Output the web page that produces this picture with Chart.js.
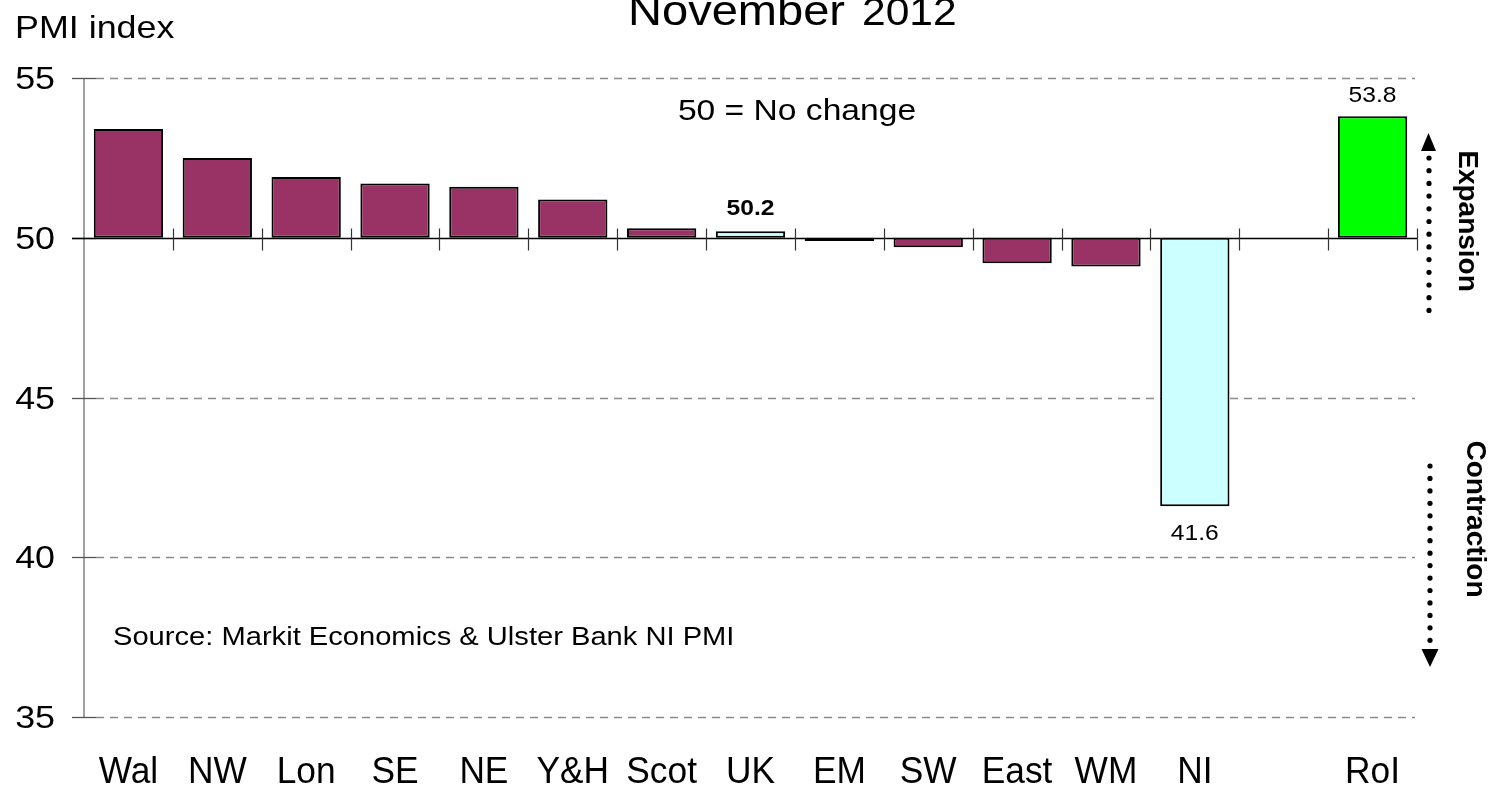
<!DOCTYPE html>
<html>
<head>
<meta charset="utf-8">
<script src="https://cdn.jsdelivr.net/npm/chart.js@4/dist/chart.umd.min.js"></script>
<style>
  html, body { margin: 0; padding: 0; background: #ffffff; }
  #wrap { width: 1491px; height: 788px; }
</style>
</head>
<body>
<div id="wrap"><canvas id="c" width="1491" height="788"></canvas></div>
<script>
// ---- data ----
const categories = ['Wal', 'NW', 'Lon', 'SE', 'NE', 'Y&H', 'Scot', 'UK', 'EM', 'SW', 'East', 'WM', 'NI', '', 'RoI'];
const pmiValues  = [53.4, 52.5, 51.9, 51.7, 51.6, 51.2, 50.3, 50.2, 49.9, 49.7, 49.2, 49.1, 41.6, null, 53.8];
const baseline   = 50;
const yTicks     = [35, 40, 45, 50, 55];
const labelledBars = ['UK', 'NI', 'RoI'];
const highlightColors = { 'UK': '#CCFFFF', 'NI': '#CCFFFF', 'RoI': '#00FF00' };
const defaultColor = '#993366';

const FONT = '"Liberation Sans", Arial, Helvetica, sans-serif';
const SX = 1.12; // horizontal stretch of the original picture's text

function stretchedText(ctx, text, x, y, font, align, sx) {
  const s = sx === undefined ? SX : sx;
  ctx.save();
  ctx.font = font;
  ctx.textBaseline = 'alphabetic';
  const w = ctx.measureText(text).width * s;
  let left = x;
  if (align === 'center') left = x - w / 2;
  else if (align === 'right') left = x - w;
  ctx.translate(left, y);
  ctx.scale(s, 1);
  ctx.textAlign = 'left';
  ctx.fillStyle = '#000';
  ctx.fillText(text, 0, 0);
  ctx.restore();
}

const framePlugin = {
  id: 'frame',
  beforeDatasetsDraw(chart) {
    const ctx = chart.ctx;
    const ys = chart.scales.y, xs = chart.scales.x;
    const a = chart.chartArea;
    ctx.save();
    // dashed gridlines
    ctx.strokeStyle = '#8a8a8a';
    ctx.lineWidth = 1.3;
    ctx.setLineDash([8, 6]);
    yTicks.forEach(v => {
      if (v === baseline) return;
      const py = Math.round(ys.getPixelForValue(v)) + 0.5;
      ctx.beginPath();
      ctx.moveTo(a.left + 12, py);
      ctx.lineTo(a.right - 2, py);
      ctx.stroke();
    });
    ctx.setLineDash([]);
    // y axis line
    ctx.strokeStyle = '#808080';
    ctx.lineWidth = 1.5;
    ctx.beginPath();
    ctx.moveTo(a.left, ys.getPixelForValue(55));
    ctx.lineTo(a.left, ys.getPixelForValue(35));
    ctx.stroke();
    // y tick marks
    ctx.strokeStyle = '#555';
    ctx.lineWidth = 1.3;
    yTicks.forEach(v => {
      const py = Math.round(ys.getPixelForValue(v)) + 0.5;
      ctx.beginPath();
      ctx.moveTo(a.left - 12, py);
      ctx.lineTo(a.left + 12, py);
      ctx.stroke();
    });
    // baseline (50) line
    const p50 = Math.round(ys.getPixelForValue(baseline)) + 0.5;
    ctx.strokeStyle = '#000';
    ctx.lineWidth = 1.4;
    ctx.beginPath();
    ctx.moveTo(a.left - 12, p50);
    ctx.lineTo(a.right, p50);
    ctx.stroke();
    // category ticks on the 50 line
    const step = (a.right - a.left) / categories.length;
    ctx.strokeStyle = '#333';
    ctx.lineWidth = 1.2;
    for (let i = 1; i <= categories.length; i++) {
      const px = Math.round(xs.getPixelForValue(i - 1) + step / 2) + 0.5;
      ctx.beginPath();
      ctx.moveTo(px, p50 - 10);
      ctx.lineTo(px, p50 + 12);
      ctx.stroke();
    }
    ctx.restore();
    // tick labels (positions from the library's scales)
    yTicks.forEach(v => {
      stretchedText(ctx, String(v), 55, ys.getPixelForValue(v) + 11, '32px ' + FONT, 'right');
    });
    categories.forEach((c, i) => {
      if (!c) return;
      stretchedText(ctx, c, xs.getPixelForValue(i), 783, '36px ' + FONT, 'center', 0.98);
    });
  },
  afterDraw(chart) {
    const ctx = chart.ctx;
    const meta = chart.getDatasetMeta(0);
    // axis title
    stretchedText(ctx, 'PMI index', 15, 38, '32px ' + FONT, 'left');
    // chart title (partly cut off at the top)
    stretchedText(ctx, 'November', 628, 25, '42px ' + FONT, 'left');
    stretchedText(ctx, '2012', 862, 25, '38px ' + FONT, 'left');
    // notes
    stretchedText(ctx, '50 = No change', 797, 120, '30px ' + FONT, 'center');
    stretchedText(ctx, 'Source: Markit Economics & Ulster Bank NI PMI', 113, 645, '26px ' + FONT, 'left');
    // data labels
    labelledBars.forEach(name => {
      const i = categories.indexOf(name);
      const bar = meta.data[i];
      const v = pmiValues[i];
      const txt = v.toFixed(1);
      const top = Math.min(bar.y, bar.base);
      const bottom = Math.max(bar.y, bar.base);
      if (name === 'UK') {
        stretchedText(ctx, txt, bar.x, top - 16, 'bold 22px ' + FONT, 'center');
      } else if (v < baseline) {
        stretchedText(ctx, txt, bar.x, bottom + 34, '22px ' + FONT, 'center');
      } else {
        stretchedText(ctx, txt, bar.x, top - 14, '22px ' + FONT, 'center');
      }
    });
    // expansion / contraction annotations
    ctx.save();
    ctx.fillStyle = '#000';
    // up arrow
    ctx.beginPath();
    ctx.moveTo(1428.5, 133);
    ctx.lineTo(1421, 151);
    ctx.lineTo(1436, 151);
    ctx.closePath();
    ctx.fill();
    for (let y = 158; y <= 311; y += 12.7) {
      ctx.beginPath(); ctx.arc(1429, y, 2.6, 0, Math.PI * 2); ctx.fill();
    }
    // down arrow
    for (let y = 466; y <= 641; y += 12.45) {
      ctx.beginPath(); ctx.arc(1430, y, 2.6, 0, Math.PI * 2); ctx.fill();
    }
    ctx.beginPath();
    ctx.moveTo(1430, 667);
    ctx.lineTo(1421.5, 649);
    ctx.lineTo(1438.5, 649);
    ctx.closePath();
    ctx.fill();
    // rotated labels
    ctx.font = 'bold 28px ' + FONT;
    ctx.textAlign = 'center';
    ctx.textBaseline = 'middle';
    ctx.save();
    ctx.translate(1467, 221);
    ctx.rotate(Math.PI / 2);
    ctx.fillText('Expansion', 0, 0);
    ctx.restore();
    ctx.save();
    ctx.translate(1475, 519);
    ctx.rotate(Math.PI / 2);
    ctx.fillText('Contraction', 0, 0);
    ctx.restore();
    ctx.restore();
  }
};

new Chart(document.getElementById('c'), {
  type: 'bar',
  data: {
    labels: categories,
    datasets: [{
      data: pmiValues.map(v => v === null ? null : [baseline, v]),
      backgroundColor: categories.map(c => highlightColors[c] || defaultColor),
      borderColor: '#000',
      borderWidth: 2,
      borderSkipped: false,
      barPercentage: 0.78,
      categoryPercentage: 1.0
    }]
  },
  options: {
    responsive: false,
    animation: false,
    events: [],
    layout: { padding: { top: 78, right: 74, bottom: 0, left: 0 } },
    plugins: { legend: { display: false }, tooltip: { enabled: false }, title: { display: false } },
    scales: {
      x: {
        grid: { display: false, drawTicks: false },
        border: { display: false },
        ticks: { display: false },
        afterFit(s) { s.height = 71; }
      },
      y: {
        min: 35, max: 55,
        afterBuildTicks(s) { s.ticks = yTicks.map(v => ({ value: v })); },
        grid: { display: false, drawTicks: false },
        border: { display: false },
        ticks: { display: false },
        afterFit(s) { s.width = 84; }
      }
    }
  },
  plugins: [framePlugin]
});
</script>
</body>
</html>
